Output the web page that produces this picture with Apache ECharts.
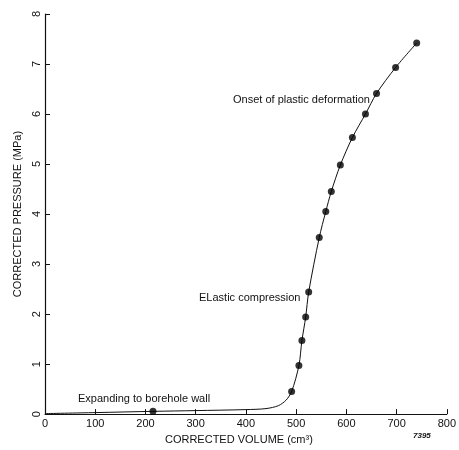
<!DOCTYPE html>
<html>
<head>
<meta charset="utf-8">
<script src="https://cdn.jsdelivr.net/npm/echarts@6/dist/echarts.min.js"></script>
<style>
html,body{margin:0;padding:0;background:#fff;}
#chart{width:459px;height:450px;}
</style>
</head>
<body>
<div id="chart"></div>
<script>
// measured points (volume cm3, pressure MPa)
let pointVol=[215,491,505.5,511.5,519,525,546,559,570,588,612,638,660,698,740];
let pointP=[0.055,0.45,0.97,1.47,1.94,2.44,3.53,4.05,4.45,4.98,5.53,6.0,6.41,6.93,7.42];

// the drawn curve
let curveVol=[0,100,215,300,400,440,465,480,491,505.5,511.5,519,525,546,559,570,588,612,638,660,698,740];
let curveP=[0.01,0.03,0.055,0.07,0.09,0.11,0.17,0.28,0.45,0.97,1.47,1.94,2.44,3.53,4.05,4.45,4.98,5.53,6.0,6.41,6.93,7.42];

let xTicks=[0,100,200,300,400,500,600,700,800];
let yTicks=[0,1,2,3,4,5,6,7,8];

let font="Liberation Sans, Arial, sans-serif";

let pts=pointVol.map(function(v,i){return [v,pointP[i]]});
let curve=curveVol.map(function(v,i){return [v,curveP[i]]});

var myChart=echarts.init(document.getElementById("chart"));
var option={
    animation:false,
    grid:{left:45,right:9,top:14,bottom:35},
    xAxis:{
        type:"value",
        min:xTicks[0],
        max:xTicks[xTicks.length-1],
        interval:100,
        name:"CORRECTED VOLUME (cm³)",
        nameLocation:"middle",
        nameGap:13,
        nameTextStyle:{color:"#111",fontFamily:font,fontSize:11,padding:[0,14,0,0]},
        axisLine:{lineStyle:{color:"#111",width:1}},
        axisTick:{inside:true,length:5,lineStyle:{color:"#111"}},
        axisLabel:{color:"#111",fontFamily:font,fontSize:11,margin:4},
        splitLine:{show:false}
    },
    yAxis:{
        type:"value",
        min:yTicks[0],
        max:yTicks[yTicks.length-1],
        interval:1,
        name:"CORRECTED PRESSURE (MPa)",
        nameLocation:"middle",
        nameGap:11,
        nameTextStyle:{color:"#111",fontFamily:font,fontSize:11},
        axisLine:{show:true,lineStyle:{color:"#111",width:1.2}},
        axisTick:{show:true,inside:true,length:5,lineStyle:{color:"#111"}},
        axisLabel:{color:"#111",fontFamily:font,fontSize:11,rotate:90,margin:3},
        splitLine:{show:false}
    },
    series:[{
        type:"line",
        data:curve,
        smooth:0.3,
        showSymbol:false,
        lineStyle:{color:"#111",width:1},
        z:2
    },{
        type:"scatter",
        data:pts,
        symbol:"circle",
        symbolSize:7,
        itemStyle:{color:"#000"},
        z:3
    }],
    graphic:[
        {type:"text",left:233,top:94,style:{text:"Onset of plastic deformation",font:"11px "+font,fill:"#111"}},
        {type:"text",left:199,top:292,style:{text:"ELastic compression",font:"11px "+font,fill:"#111"}},
        {type:"text",left:78,top:393,style:{text:"Expanding to borehole wall",font:"11px "+font,fill:"#111"}},
        {type:"text",left:413,top:432,style:{text:"7395",font:"italic bold 8px "+font,fill:"#111"}}
    ]
};
myChart.setOption(option);
</script>
</body>
</html>
